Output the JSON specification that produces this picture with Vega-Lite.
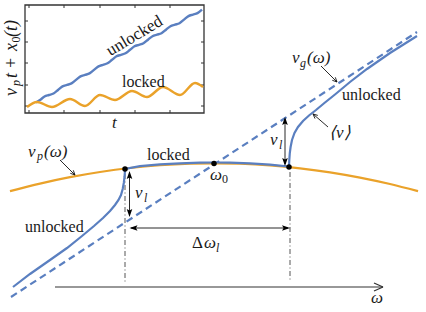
{
  "$schema": "https://vega.github.io/schema/vega-lite/v6.json",
  "width": 426,
  "height": 312,
  "padding": 0,
  "autosize": {"type": "fit", "contains": "padding"},
  "background": "white",
  "config": {"view": {"stroke": null}, "text": {"font": "Liberation Serif"}},
  "datasets": {
    "orange": [
      {"x": 10, "y": 191.2}, {"x": 40, "y": 183.6}, {"x": 70, "y": 177.2}, {"x": 100, "y": 172.0},
      {"x": 130, "y": 168.0}, {"x": 160, "y": 165.25}, {"x": 190, "y": 163.7}, {"x": 214, "y": 163.3},
      {"x": 240, "y": 163.75}, {"x": 270, "y": 165.4}, {"x": 300, "y": 168.3}, {"x": 330, "y": 172.3},
      {"x": 360, "y": 177.6}, {"x": 390, "y": 184.05}, {"x": 418, "y": 191.2}
    ],
    "vg": [{"x": 11, "y": 297}, {"x": 417, "y": 32}],
    "vavg": [
      {"x": 13, "y": 287}, {"x": 30, "y": 274}, {"x": 50, "y": 260}, {"x": 67, "y": 248},
      {"x": 82, "y": 236}, {"x": 94, "y": 226}, {"x": 103, "y": 218}, {"x": 110, "y": 211},
      {"x": 115, "y": 205}, {"x": 118.5, "y": 200}, {"x": 121, "y": 195}, {"x": 122.7, "y": 189},
      {"x": 123.8, "y": 183}, {"x": 124.5, "y": 177}, {"x": 124.9, "y": 172}, {"x": 125, "y": 169},
      {"x": 140, "y": 166.2}, {"x": 160, "y": 164.45}, {"x": 180, "y": 163.3}, {"x": 200, "y": 162.6},
      {"x": 214, "y": 162.5}, {"x": 230, "y": 162.7}, {"x": 250, "y": 163.4}, {"x": 270, "y": 164.6},
      {"x": 289, "y": 166.5}, {"x": 289.3, "y": 160}, {"x": 289.8, "y": 153}, {"x": 290.6, "y": 147},
      {"x": 292, "y": 140}, {"x": 294.5, "y": 133}, {"x": 298, "y": 127}, {"x": 303, "y": 121},
      {"x": 309, "y": 115.5}, {"x": 316, "y": 110}, {"x": 325, "y": 102.5}, {"x": 335, "y": 94.5},
      {"x": 350, "y": 82}, {"x": 367, "y": 69}, {"x": 390, "y": 53}, {"x": 417, "y": 36}
    ],
    "insetOrange": [
      {"x": 27, "y": 107}, {"x": 37, "y": 102}, {"x": 52, "y": 107}, {"x": 70, "y": 99},
      {"x": 85, "y": 106}, {"x": 100, "y": 95}, {"x": 115, "y": 100}, {"x": 132, "y": 91},
      {"x": 147, "y": 97}, {"x": 163, "y": 87}, {"x": 180, "y": 95}, {"x": 195, "y": 83},
      {"x": 203, "y": 87}
    ],
    "insetBlue": [
      {"x": 36, "y": 102.5}, {"x": 40, "y": 100}, {"x": 44.5, "y": 96.5}, {"x": 49, "y": 95},
      {"x": 53.5, "y": 93.5}, {"x": 58, "y": 90}, {"x": 62.5, "y": 86.4}, {"x": 67, "y": 84.9},
      {"x": 71.5, "y": 83.4}, {"x": 76, "y": 79.9}, {"x": 80.5, "y": 76.4}, {"x": 85, "y": 74.9},
      {"x": 89.5, "y": 73.4}, {"x": 94, "y": 69.9}, {"x": 98.5, "y": 66.4}, {"x": 103, "y": 64.8},
      {"x": 107.5, "y": 63.3}, {"x": 112, "y": 59.8}, {"x": 116.5, "y": 56.3}, {"x": 121, "y": 54.8},
      {"x": 125.5, "y": 53.3}, {"x": 130, "y": 49.8}, {"x": 134.5, "y": 46.3}, {"x": 139, "y": 44.8},
      {"x": 143.5, "y": 43.2}, {"x": 148, "y": 39.7}, {"x": 152.5, "y": 36.2}, {"x": 157, "y": 34.7},
      {"x": 161.5, "y": 33.2}, {"x": 166, "y": 29.7}, {"x": 170.5, "y": 26.2}, {"x": 175, "y": 24.7},
      {"x": 179.5, "y": 23.2}, {"x": 184, "y": 19.6}, {"x": 188.5, "y": 16.1}, {"x": 193, "y": 14.6},
      {"x": 197.5, "y": 13.1}, {"x": 202, "y": 9.6}
    ],
    "frame": [{"x": 25, "y": 5, "x2": 204, "y2": 113}],
    "segs": [
      {"k": "thin", "x": 321, "y": 66, "x2": 337, "y2": 82},
      {"k": "thin", "x": 337, "y": 82, "x2": 335.3, "y2": 77.3},
      {"k": "thin", "x": 337, "y": 82, "x2": 332.3, "y2": 80.3},
      {"k": "thin", "x": 328, "y": 127, "x2": 313, "y2": 114},
      {"k": "thin", "x": 313, "y": 114, "x2": 315, "y2": 118.6},
      {"k": "thin", "x": 313, "y": 114, "x2": 317.8, "y2": 115.4},
      {"k": "thin", "x": 60, "y": 160, "x2": 75, "y2": 175},
      {"k": "thin", "x": 75, "y": 175, "x2": 73.3, "y2": 170.3},
      {"k": "thin", "x": 75, "y": 175, "x2": 70.3, "y2": 173.3},
      {"k": "thin", "x": 129.5, "y": 173, "x2": 129.5, "y2": 215},
      {"k": "thin", "x": 285, "y": 119, "x2": 285, "y2": 164},
      {"k": "thin", "x": 131, "y": 228, "x2": 288, "y2": 228},
      {"k": "axis", "x": 55, "y": 287, "x2": 383, "y2": 287},
      {"k": "axis", "x": 374, "y": 283, "x2": 383, "y2": 287},
      {"k": "axis", "x": 374, "y": 291, "x2": 383, "y2": 287},
      {"k": "dashdot", "x": 125, "y": 174, "x2": 125, "y2": 282},
      {"k": "dashdot", "x": 290, "y": 172, "x2": 290, "y2": 282},
      {"k": "tick", "x": 25, "y": 21, "x2": 28, "y2": 21},
      {"k": "tick", "x": 25, "y": 42, "x2": 28, "y2": 42},
      {"k": "tick", "x": 25, "y": 63, "x2": 28, "y2": 63},
      {"k": "tick", "x": 25, "y": 85, "x2": 28, "y2": 85},
      {"k": "tick", "x": 25, "y": 106, "x2": 28, "y2": 106},
      {"k": "tick", "x": 201, "y": 21, "x2": 204, "y2": 21},
      {"k": "tick", "x": 201, "y": 42, "x2": 204, "y2": 42},
      {"k": "tick", "x": 201, "y": 63, "x2": 204, "y2": 63},
      {"k": "tick", "x": 201, "y": 85, "x2": 204, "y2": 85},
      {"k": "tick", "x": 201, "y": 106, "x2": 204, "y2": 106},
      {"k": "tick", "x": 29, "y": 113, "x2": 29, "y2": 110},
      {"k": "tick", "x": 64, "y": 113, "x2": 64, "y2": 110},
      {"k": "tick", "x": 100, "y": 113, "x2": 100, "y2": 110},
      {"k": "tick", "x": 135, "y": 113, "x2": 135, "y2": 110},
      {"k": "tick", "x": 170, "y": 113, "x2": 170, "y2": 110},
      {"k": "tick", "x": 29, "y": 5, "x2": 29, "y2": 8},
      {"k": "tick", "x": 64, "y": 5, "x2": 64, "y2": 8},
      {"k": "tick", "x": 100, "y": 5, "x2": 100, "y2": 8},
      {"k": "tick", "x": 135, "y": 5, "x2": 135, "y2": 8},
      {"k": "tick", "x": 170, "y": 5, "x2": 170, "y2": 8}
    ],
    "heads": [
      {"d": "up", "x": 129.5, "y": 171}, {"d": "up", "x": 285, "y": 117},
      {"d": "down", "x": 129.5, "y": 217}, {"d": "down", "x": 285, "y": 166},
      {"d": "left", "x": 129.5, "y": 228}, {"d": "right", "x": 290, "y": 228}
    ],
    "dots": [{"x": 125, "y": 169}, {"x": 214, "y": 163.5}, {"x": 289, "y": 167}],
    "labels": [
      {"k": "mi", "t": "v", "x": 292, "y": 63},
      {"k": "ms", "t": "g", "x": 300, "y": 66.5},
      {"k": "mi", "t": "(ω)", "x": 307, "y": 63},
      {"k": "rm", "t": "unlocked", "x": 342, "y": 100},
      {"k": "mi", "t": "⟨v⟩", "x": 329, "y": 138},
      {"k": "mi", "t": "v", "x": 270, "y": 145},
      {"k": "ms", "t": "l", "x": 279, "y": 148.5},
      {"k": "mi", "t": "ω", "x": 210, "y": 180},
      {"k": "ss", "t": "0", "x": 222, "y": 183},
      {"k": "rm", "t": "locked", "x": 147, "y": 160},
      {"k": "mi", "t": "v", "x": 28, "y": 157},
      {"k": "ms", "t": "p", "x": 37, "y": 160},
      {"k": "mi", "t": "(ω)", "x": 44, "y": 157},
      {"k": "mi", "t": "v", "x": 135, "y": 198},
      {"k": "ms", "t": "l", "x": 144, "y": 202},
      {"k": "rm", "t": "unlocked", "x": 25, "y": 232},
      {"k": "up", "t": "Δ", "x": 192, "y": 248},
      {"k": "mi", "t": "ω", "x": 204, "y": 248},
      {"k": "ms", "t": "l", "x": 216, "y": 251.5},
      {"k": "mi", "t": "ω", "x": 371, "y": 303},
      {"k": "mi", "t": "t", "x": 112, "y": 128},
      {"k": "rm", "t": "locked", "x": 122, "y": 87},
      {"k": "rot", "t": "unlocked", "x": 134.5, "y": 36},
      {"k": "ymi", "t": "v", "x": 17, "y": 96},
      {"k": "yms", "t": "p", "x": 20, "y": 86},
      {"k": "ymi", "t": "t", "x": 17, "y": 78},
      {"k": "yup", "t": "+", "x": 17, "y": 68},
      {"k": "ymi", "t": "x", "x": 17, "y": 51},
      {"k": "yss", "t": "0", "x": 20, "y": 42.5},
      {"k": "ymi", "t": "(t)", "x": 17, "y": 37}
    ]
  },
  "encoding": {
    "x": {"field": "x", "type": "quantitative", "scale": {"domain": [0, 426], "nice": false, "zero": false}, "axis": null},
    "y": {"field": "y", "type": "quantitative", "scale": {"domain": [0, 312], "nice": false, "zero": false, "reverse": true}, "axis": null}
  },
  "layer": [
    {"data": {"name": "frame"}, "mark": {"type": "rect", "fill": "white", "stroke": "#333", "strokeWidth": 1.3},
     "encoding": {"x2": {"field": "x2"}, "y2": {"field": "y2"}}},
    {"data": {"name": "segs"}, "transform": [{"filter": "datum.k === 'tick'"}],
     "mark": {"type": "rule", "color": "#333", "strokeWidth": 1},
     "encoding": {"x2": {"field": "x2"}, "y2": {"field": "y2"}}},
    {"data": {"name": "insetBlue"}, "mark": {"type": "line", "color": "#5a7fc0", "strokeWidth": 2.4, "interpolate": "monotone"}},
    {"data": {"name": "insetOrange"}, "mark": {"type": "line", "color": "#eaa22a", "strokeWidth": 2.4, "interpolate": "monotone"}},
    {"data": {"name": "vg"}, "mark": {"type": "line", "color": "#5a7fc0", "strokeWidth": 2.2, "strokeDash": [7, 4.5]}},
    {"data": {"name": "orange"}, "mark": {"type": "line", "color": "#eaa22a", "strokeWidth": 2.2, "interpolate": "monotone"}},
    {"data": {"name": "segs"}, "transform": [{"filter": "datum.k === 'dashdot'"}],
     "mark": {"type": "rule", "color": "#555", "strokeWidth": 1, "strokeDash": [5, 2.5, 1, 2.5]},
     "encoding": {"x2": {"field": "x2"}, "y2": {"field": "y2"}}},
    {"data": {"name": "vavg"}, "mark": {"type": "line", "color": "#5a7fc0", "strokeWidth": 2.2}},
    {"data": {"name": "segs"}, "transform": [{"filter": "datum.k === 'thin'"}],
     "mark": {"type": "rule", "color": "#111", "strokeWidth": 0.9},
     "encoding": {"x2": {"field": "x2"}, "y2": {"field": "y2"}}},
    {"data": {"name": "segs"}, "transform": [{"filter": "datum.k === 'axis'"}],
     "mark": {"type": "rule", "color": "#333", "strokeWidth": 1.2},
     "encoding": {"x2": {"field": "x2"}, "y2": {"field": "y2"}}},
    {"data": {"name": "heads"}, "transform": [{"filter": "datum.d === 'down'"}],
     "mark": {"type": "point", "filled": true, "color": "#000", "opacity": 1, "size": 256, "strokeWidth": 0, "shape": "M0,0L-0.35,-1L0,-0.8L0.35,-1Z"}},
    {"data": {"name": "heads"}, "transform": [{"filter": "datum.d === 'up'"}],
     "mark": {"type": "point", "filled": true, "color": "#000", "opacity": 1, "size": 256, "strokeWidth": 0, "shape": "M0,0L-0.35,1L0,0.8L0.35,1Z"}},
    {"data": {"name": "heads"}, "transform": [{"filter": "datum.d === 'left'"}],
     "mark": {"type": "point", "filled": true, "color": "#000", "opacity": 1, "size": 256, "strokeWidth": 0, "shape": "M0,0L1,-0.35L0.8,0L1,0.35Z"}},
    {"data": {"name": "heads"}, "transform": [{"filter": "datum.d === 'right'"}],
     "mark": {"type": "point", "filled": true, "color": "#000", "opacity": 1, "size": 256, "strokeWidth": 0, "shape": "M0,0L-1,-0.35L-0.8,0L-1,0.35Z"}},
    {"data": {"name": "dots"}, "mark": {"type": "point", "filled": true, "color": "#000", "opacity": 1, "size": 30}},
    {"data": {"name": "labels"}, "transform": [{"filter": "datum.k === 'rm'"}],
     "mark": {"type": "text", "fontSize": 16, "align": "left", "baseline": "alphabetic", "color": "#1a1a1a"},
     "encoding": {"text": {"field": "t"}}},
    {"data": {"name": "labels"}, "transform": [{"filter": "datum.k === 'mi'"}],
     "mark": {"type": "text", "fontSize": 17, "fontStyle": "italic", "align": "left", "baseline": "alphabetic", "color": "#1a1a1a"},
     "encoding": {"text": {"field": "t"}}},
    {"data": {"name": "labels"}, "transform": [{"filter": "datum.k === 'ms'"}],
     "mark": {"type": "text", "fontSize": 12, "fontStyle": "italic", "align": "left", "baseline": "alphabetic", "color": "#1a1a1a"},
     "encoding": {"text": {"field": "t"}}},
    {"data": {"name": "labels"}, "transform": [{"filter": "datum.k === 'ss'"}],
     "mark": {"type": "text", "fontSize": 12, "align": "left", "baseline": "alphabetic", "color": "#1a1a1a"},
     "encoding": {"text": {"field": "t"}}},
    {"data": {"name": "labels"}, "transform": [{"filter": "datum.k === 'up'"}],
     "mark": {"type": "text", "fontSize": 17, "align": "left", "baseline": "alphabetic", "color": "#1a1a1a"},
     "encoding": {"text": {"field": "t"}}},
    {"data": {"name": "labels"}, "transform": [{"filter": "datum.k === 'rot'"}],
     "mark": {"type": "text", "fontSize": 17, "angle": -31, "align": "center", "baseline": "middle", "color": "#1a1a1a"},
     "encoding": {"text": {"field": "t"}}},
    {"data": {"name": "labels"}, "transform": [{"filter": "datum.k === 'ymi'"}],
     "mark": {"type": "text", "fontSize": 18, "fontStyle": "italic", "angle": -90, "align": "left", "baseline": "alphabetic", "color": "#1a1a1a"},
     "encoding": {"text": {"field": "t"}}},
    {"data": {"name": "labels"}, "transform": [{"filter": "datum.k === 'yms'"}],
     "mark": {"type": "text", "fontSize": 12, "fontStyle": "italic", "angle": -90, "align": "left", "baseline": "alphabetic", "color": "#1a1a1a"},
     "encoding": {"text": {"field": "t"}}},
    {"data": {"name": "labels"}, "transform": [{"filter": "datum.k === 'yss'"}],
     "mark": {"type": "text", "fontSize": 12, "angle": -90, "align": "left", "baseline": "alphabetic", "color": "#1a1a1a"},
     "encoding": {"text": {"field": "t"}}},
    {"data": {"name": "labels"}, "transform": [{"filter": "datum.k === 'yup'"}],
     "mark": {"type": "text", "fontSize": 18, "angle": -90, "align": "left", "baseline": "alphabetic", "color": "#1a1a1a"},
     "encoding": {"text": {"field": "t"}}}
  ]
}
